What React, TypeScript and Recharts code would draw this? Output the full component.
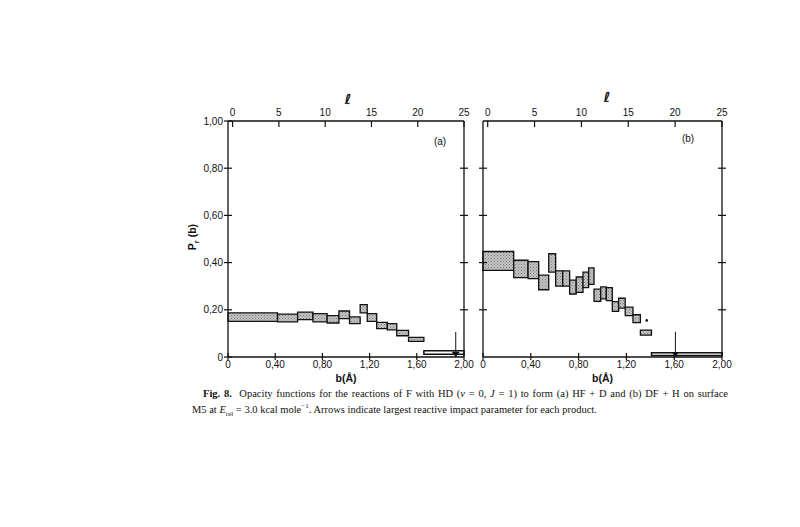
import React from "react";
import {
  ComposedChart,
  ReferenceArea,
  ReferenceDot,
  ReferenceLine,
  Scatter,
  XAxis,
  YAxis,
} from "recharts";

// axis ticks
const bTicks = [0, 0.4, 0.8, 1.2, 1.6, 2.0];
const pTicks = [0, 0.2, 0.4, 0.6, 0.8, 1.0];
const sideTicks = [0.2, 0.4, 0.6, 0.8];
const lTicks = [0, 5, 10, 15, 20, 25];

// (a) HF + D : bins of b (Å) with P_r(b) error range
const hfBStart = [0, 0.42, 0.59, 0.72, 0.84, 0.94, 1.03, 1.12, 1.18, 1.26, 1.35, 1.43, 1.53];
const hfBEnd = [0.42, 0.59, 0.72, 0.84, 0.94, 1.03, 1.12, 1.18, 1.26, 1.35, 1.43, 1.53, 1.66];
const hfPLow = [0.151, 0.149, 0.158, 0.149, 0.144, 0.163, 0.141, 0.187, 0.151, 0.12, 0.115, 0.09, 0.066];
const hfPHigh = [0.187, 0.182, 0.19, 0.184, 0.175, 0.195, 0.17, 0.222, 0.184, 0.147, 0.141, 0.113, 0.083];
const hfTailB = [1.66, 2.0];
const hfTailP = [0.012, 0.026];
const hfArrow = { b: 1.93, top: 0.106 };

// (b) DF + H
const dfBStart = [0, 0.257, 0.377, 0.466, 0.55, 0.608, 0.667, 0.725, 0.78, 0.837, 0.884, 0.929, 0.985, 1.032, 1.082, 1.135, 1.19, 1.255, 1.317];
const dfBEnd = [0.257, 0.377, 0.466, 0.55, 0.608, 0.667, 0.725, 0.78, 0.837, 0.884, 0.929, 0.985, 1.032, 1.082, 1.135, 1.19, 1.255, 1.317, 1.41];
const dfPLow = [0.367, 0.336, 0.332, 0.285, 0.36, 0.3, 0.3, 0.267, 0.274, 0.294, 0.308, 0.236, 0.246, 0.239, 0.193, 0.207, 0.175, 0.146, 0.093];
const dfPHigh = [0.447, 0.41, 0.404, 0.347, 0.4375, 0.365, 0.365, 0.326, 0.339, 0.36, 0.378, 0.2875, 0.297, 0.294, 0.235, 0.249, 0.211, 0.179, 0.114];
const dfTailB = [1.41, 2.0];
const dfTailP = [0.006, 0.018];
const dfStray = { b: 1.37, p: 0.155 };
const dfArrow = { b: 1.61, top: 0.107 };

// corners of the axes, so every axis gets its scale
const bCorners = [
  { b: 0, p: 0 },
  { b: 2, p: 1 },
];
const lCorners = [
  { l: 0, r: 0 },
  { l: 25, r: 1 },
];

const INK = "#111";
const SANS = "'Liberation Sans', Arial, sans-serif";
const SERIF = "'Liberation Serif', 'Times New Roman', serif";

const CHART_H = 330;
const TOP_H = 61;
const BOTTOM_H = 33;
const AXIS_Y_BOTTOM = CHART_H - BOTTOM_H;

const fmt = (v: number) => (v === 0 ? "0" : v.toFixed(2).replace(".", ","));

function crossTickY(axisX: number, labels: boolean) {
  return (props: any) => {
    const { y, payload } = props;
    return (
      <g>
        <line x1={axisX - 4} x2={axisX + 4} y1={y} y2={y} stroke={INK} strokeWidth={1.2} />
        {labels && (
          <text x={axisX - 5} y={y + 3.5} textAnchor="end" fontSize={10} fill={INK} fontFamily={SANS}>
            {fmt(payload.value)}
          </text>
        )}
      </g>
    );
  };
}

function bottomTick(props: any) {
  const { x, payload } = props;
  return (
    <g>
      <line x1={x} x2={x} y1={AXIS_Y_BOTTOM - 4} y2={AXIS_Y_BOTTOM + 3} stroke={INK} strokeWidth={1.2} />
      <text x={x} y={AXIS_Y_BOTTOM + 11} textAnchor="middle" fontSize={10} fill={INK} fontFamily={SANS}>
        {fmt(payload.value)}
      </text>
    </g>
  );
}

function topTick(props: any) {
  const { x, payload } = props;
  return (
    <g>
      <line x1={x} x2={x} y1={TOP_H} y2={TOP_H + 6} stroke={INK} strokeWidth={1.2} />
      <text x={x} y={TOP_H - 5} textAnchor="middle" fontSize={10} fill={INK} fontFamily={SANS}>
        {payload.value}
      </text>
    </g>
  );
}

function arrowHead(size: number) {
  return (props: any) => {
    const { cx, cy } = props;
    return <path d={`M${cx - size},${cy - size * 1.3} L${cx + size},${cy - size * 1.3} L${cx},${cy} Z`} fill={INK} />;
  };
}

const noShape = () => <g />;

interface PanelProps {
  left: number;
  width: number;
  leftW: number;
  rightW: number;
  tag: string;
  tagPos: [number, number];
  lPos: [number, number];
  patternId: string;
  bStart: number[];
  bEnd: number[];
  pLow: number[];
  pHigh: number[];
  tailB: number[];
  tailP: number[];
  arrow: { b: number; top: number };
  headSize: number;
  showPLabels: boolean;
  extra?: React.ReactNode;
}

function Panel(p: PanelProps) {
  const plotRight = p.width - p.rightW;
  const centerX = p.leftW + (plotRight - p.leftW) / 2;
  return (
    <div style={{ position: "absolute", left: p.left, top: 60 }}>
      <ComposedChart width={p.width} height={CHART_H} margin={{ top: 0, right: 0, bottom: 0, left: 0 }}>
        <defs>
          <pattern id={p.patternId} width="3" height="3" patternUnits="userSpaceOnUse">
            <rect width="3" height="3" fill="#c4c4c4" />
            <rect width="1" height="1" fill="#7a7a7a" />
            <rect x="1.5" y="1.5" width="1" height="1" fill="#8a8a8a" />
          </pattern>
        </defs>
        <XAxis
          xAxisId="b"
          dataKey="b"
          type="number"
          domain={[0, 2]}
          ticks={bTicks}
          height={BOTTOM_H}
          axisLine={{ stroke: INK, strokeWidth: 1.3 }}
          tickLine={false}
          tick={bottomTick}
        />
        <XAxis
          xAxisId="l"
          dataKey="l"
          orientation="top"
          type="number"
          domain={[-0.5, 25]}
          ticks={lTicks}
          height={TOP_H}
          axisLine={{ stroke: INK, strokeWidth: 1.3 }}
          tickLine={false}
          tick={topTick}
        />
        <YAxis
          yAxisId="p"
          dataKey="p"
          type="number"
          domain={[0, 1]}
          ticks={p.showPLabels ? pTicks : sideTicks}
          width={p.leftW}
          axisLine={{ stroke: INK, strokeWidth: 1.3 }}
          tickLine={false}
          tick={crossTickY(p.leftW, p.showPLabels)}
        />
        <YAxis
          yAxisId="r"
          dataKey="r"
          orientation="right"
          type="number"
          domain={[0, 1]}
          ticks={sideTicks}
          width={p.rightW}
          axisLine={{ stroke: INK, strokeWidth: 1.3 }}
          tickLine={false}
          tick={crossTickY(plotRight, false)}
        />
        <Scatter xAxisId="b" yAxisId="p" data={bCorners} dataKey="p" shape={noShape} isAnimationActive={false} />
        <Scatter xAxisId="l" yAxisId="r" data={lCorners} dataKey="r" shape={noShape} isAnimationActive={false} />
        {p.bStart.map((b, i) => (
          <ReferenceArea
            key={i}
            xAxisId="b"
            yAxisId="p"
            x1={b}
            x2={p.bEnd[i]}
            y1={p.pLow[i]}
            y2={p.pHigh[i]}
            fill={`url(#${p.patternId})`}
            fillOpacity={1}
            stroke={INK}
            strokeWidth={1.3}
          />
        ))}
        <ReferenceArea
          xAxisId="b"
          yAxisId="p"
          x1={p.tailB[0]}
          x2={p.tailB[1]}
          y1={p.tailP[0]}
          y2={p.tailP[1]}
          fill="#fff"
          fillOpacity={1}
          stroke={INK}
          strokeWidth={1.5}
        />
        <ReferenceLine
          xAxisId="b"
          yAxisId="p"
          segment={[
            { x: p.arrow.b, y: p.arrow.top },
            { x: p.arrow.b, y: 0 },
          ]}
          stroke={INK}
          strokeWidth={1}
        />
        <ReferenceDot
          xAxisId="b"
          yAxisId="p"
          x={p.arrow.b}
          y={0}
          r={3}
          shape={arrowHead(p.headSize)}
        />
        {p.extra}
        <text x={p.lPos[0]} y={p.lPos[1]} textAnchor="middle" fontSize={14} fontWeight="bold" fill={INK} fontFamily="'DejaVu Sans', sans-serif">
          ℓ
        </text>
        <text x={p.tagPos[0]} y={p.tagPos[1]} textAnchor="middle" fontSize={10} fill={INK} fontFamily={SANS}>
          {p.tag}
        </text>
        <text x={centerX} y={322} textAnchor="middle" fontSize={10.5} fontWeight="bold" fill={INK} fontFamily={SANS}>
          b(Å)
        </text>
        {p.showPLabels && (
          <text x={46} y={177} transform="rotate(-90, 46, 177)" textAnchor="middle" fontSize={10.5} fontWeight="bold" fill={INK} fontFamily={SANS}>
            P
            <tspan fontSize={7.5} dy={3}>
              r
            </tspan>
            <tspan dy={-3}> (b)</tspan>
          </text>
        )}
      </ComposedChart>
    </div>
  );
}

export default function App() {
  return (
    <div style={{ position: "absolute", left: 0, top: 0, width: 800, height: 527, background: "#fff" }}>
      <Panel
        left={150}
        width={330}
        leftW={78}
        rightW={16}
        tag="(a)"
        tagPos={[290, 85]}
        lPos={[198, 44]}
        patternId="stipA"
        bStart={hfBStart}
        bEnd={hfBEnd}
        pLow={hfPLow}
        pHigh={hfPHigh}
        tailB={hfTailB}
        tailP={hfTailP}
        arrow={hfArrow}
        headSize={4}
        showPLabels
      />
      <Panel
        left={470}
        width={270}
        leftW={13}
        rightW={18}
        tag="(b)"
        tagPos={[218, 82]}
        lPos={[137, 42]}
        patternId="stipB"
        bStart={dfBStart}
        bEnd={dfBEnd}
        pLow={dfPLow}
        pHigh={dfPHigh}
        tailB={dfTailB}
        tailP={dfTailP}
        arrow={dfArrow}
        headSize={3}
        showPLabels={false}
        extra={
          <ReferenceDot xAxisId="b" yAxisId="p" x={dfStray.b} y={dfStray.p} r={1.3} fill={INK} stroke="none" />
        }
      />
      <div
        style={{
          position: "absolute",
          left: 203,
          top: 388,
          width: 525,
          fontFamily: SERIF,
          fontSize: 10.5,
          lineHeight: "12px",
          color: INK,
          textAlign: "justify",
          textAlignLast: "justify",
        }}
      >
        <b>Fig. 8.</b>&nbsp; Opacity functions for the reactions of F with HD (<i>v</i> = 0, <i>J</i> = 1) to form (a) HF + D
        and (b) DF + H on surface
      </div>
      <div
        style={{
          position: "absolute",
          left: 192,
          top: 400,
          fontFamily: SERIF,
          fontSize: 10.5,
          lineHeight: "12px",
          color: INK,
          whiteSpace: "nowrap",
        }}
      >
        M5 at <i>E</i>
        <sub style={{ fontSize: 7 }}>rel</sub> = 3.0 kcal mole<sup style={{ fontSize: 7 }}>−1</sup>. Arrows indicate largest
        reactive impact parameter for each product.
      </div>
    </div>
  );
}
